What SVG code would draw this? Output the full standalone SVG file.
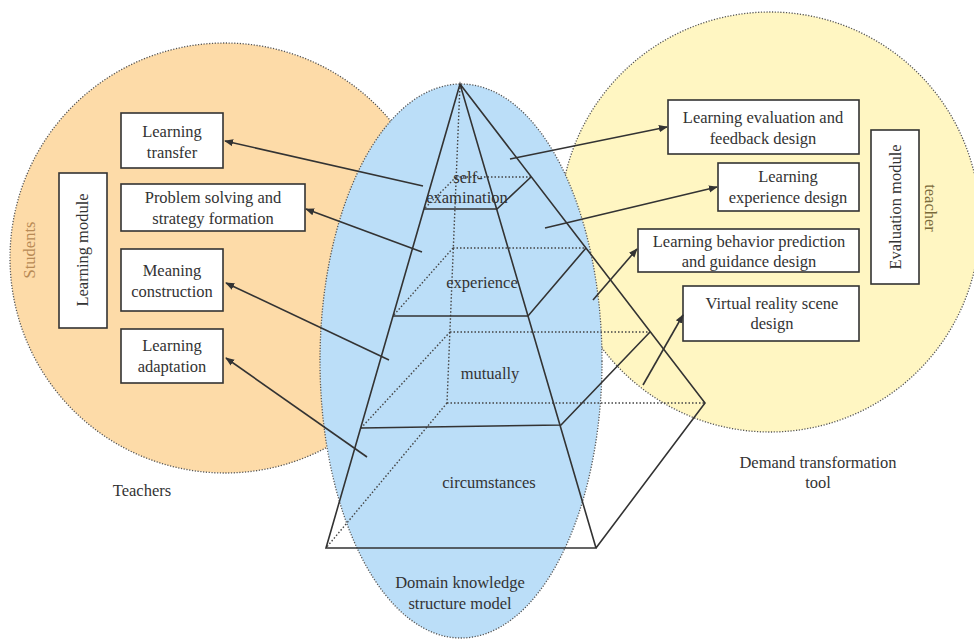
<svg xmlns="http://www.w3.org/2000/svg" width="974" height="641" viewBox="0 0 974 641">
<defs>
<style>
.t{font-family:"Liberation Serif","Times New Roman",serif;font-size:16.5px;fill:#333;text-anchor:middle}
.box{fill:#fff;stroke:#333;stroke-width:1.6}
.ln{stroke:#333;stroke-width:1.6;fill:none}
.dt{stroke:#444;stroke-width:1.4;stroke-dasharray:1.5 2;fill:none}
.circ{stroke:#555;stroke-width:1.3;stroke-dasharray:1.2 1.6}
.arr{stroke:#333;stroke-width:1.6;fill:none;marker-end:url(#ah)}
</style>
<marker id="ah" viewBox="0 0 10 10" refX="9" refY="5" markerWidth="9" markerHeight="9" markerUnits="userSpaceOnUse" orient="auto">
<path d="M0,1 L10,5 L0,9 z" fill="#333"/>
</marker>
</defs>
<rect width="974" height="641" fill="#fff"/>
<g id="regions">
<circle id="students-circle" class="circ" cx="225" cy="258" r="215" fill="#FDDBA8"/>
<circle id="teacher-circle" class="circ" cx="770" cy="222" r="210" fill="#FFF6C2"/>
<ellipse id="domain-ellipse" class="circ" cx="461" cy="361" rx="141" ry="277" fill="#BBDEF8"/>
</g>
<g id="region-labels">
<text class="t" transform="translate(35,250) rotate(-90)" style="fill:#B88A55">Students</text>
<text class="t" x="142" y="496">Teachers</text>
<text class="t" transform="translate(925,208) rotate(90)" style="fill:#7A6A3A">teacher</text>
<text class="t" x="818" y="468">Demand transformation</text>
<text class="t" x="818" y="488">tool</text>
<text class="t" x="460" y="588">Domain knowledge</text>
<text class="t" x="460" y="609">structure model</text>
</g>
<g id="pyramid">
<line class="dt" x1="460" y1="84" x2="447" y2="403"/>
<line class="dt" x1="447" y1="403" x2="705" y2="403"/>
<line class="dt" x1="447" y1="403" x2="326" y2="548"/>
<line class="dt" x1="456" y1="177" x2="531" y2="177"/>
<line class="dt" x1="456" y1="177" x2="424" y2="209"/>
<line class="dt" x1="453" y1="248" x2="586" y2="248"/>
<line class="dt" x1="453" y1="248" x2="393" y2="316"/>
<line class="dt" x1="450" y1="332" x2="650" y2="332"/>
<line class="dt" x1="450" y1="332" x2="361" y2="428"/>
<path class="ln" d="M460,84 L326,548 L596,548 Z M460,84 L705,403 L596,548"/>
<path class="ln" d="M424,209 L497,209 L531,177"/>
<path class="ln" d="M393,316 L528,316 L586,248"/>
<path class="ln" d="M361,428 L561,425 L650,332"/>
</g>
<g id="layer-labels">
<text class="t" x="468" y="183">self-</text>
<text class="t" x="467" y="203">examination</text>
<text class="t" x="482" y="288">experience</text>
<text class="t" x="490" y="379">mutually</text>
<text class="t" x="489" y="488">circumstances</text>
</g>
<g id="learning-module">
<rect class="box" x="59" y="173" width="48" height="155"/>
<text class="t" transform="translate(88,250) rotate(-90)">Learning module</text>
</g>
<g id="learning-transfer">
<rect class="box" x="121" y="113" width="102" height="55"/>
<text class="t" x="172" y="137">Learning</text>
<text class="t" x="172" y="158">transfer</text>
</g>
<g id="problem-solving">
<rect class="box" x="121" y="184" width="184" height="47"/>
<text class="t" x="213" y="203">Problem solving and</text>
<text class="t" x="213" y="224">strategy formation</text>
</g>
<g id="meaning-construction">
<rect class="box" x="121" y="249" width="102" height="62"/>
<text class="t" x="172" y="276">Meaning</text>
<text class="t" x="172" y="297">construction</text>
</g>
<g id="learning-adaptation">
<rect class="box" x="121" y="329" width="102" height="54"/>
<text class="t" x="172" y="351">Learning</text>
<text class="t" x="172" y="372">adaptation</text>
</g>
<g id="evaluation-module">
<rect class="box" x="871" y="130" width="48" height="154"/>
<text class="t" transform="translate(901,207) rotate(-90)">Evaluation module</text>
</g>
<g id="evaluation-feedback">
<rect class="box" x="668" y="100" width="191" height="54"/>
<text class="t" x="763" y="123">Learning evaluation and</text>
<text class="t" x="763" y="144">feedback design</text>
</g>
<g id="experience-design">
<rect class="box" x="718" y="163" width="141" height="48"/>
<text class="t" x="788" y="182">Learning</text>
<text class="t" x="788" y="203">experience design</text>
</g>
<g id="behavior-prediction">
<rect class="box" x="638" y="229" width="221" height="43"/>
<text class="t" x="749" y="247">Learning behavior prediction</text>
<text class="t" x="749" y="267">and guidance design</text>
</g>
<g id="vr-scene">
<rect class="box" x="683" y="286" width="176" height="55"/>
<text class="t" x="772" y="309">Virtual reality scene</text>
<text class="t" x="772" y="329">design</text>
</g>
<g id="connectors">
<line class="arr" x1="423" y1="186" x2="225" y2="141"/>
<line class="arr" x1="422" y1="252" x2="306" y2="209"/>
<line class="arr" x1="389" y1="360" x2="226" y2="283"/>
<line class="arr" x1="367" y1="457" x2="226" y2="358"/>
<line class="arr" x1="510" y1="159" x2="667" y2="127"/>
<line class="arr" x1="545" y1="228" x2="717" y2="187"/>
<line class="arr" x1="593" y1="300" x2="637" y2="249"/>
<line class="arr" x1="643" y1="385" x2="683" y2="315"/>
</g>
</svg>
